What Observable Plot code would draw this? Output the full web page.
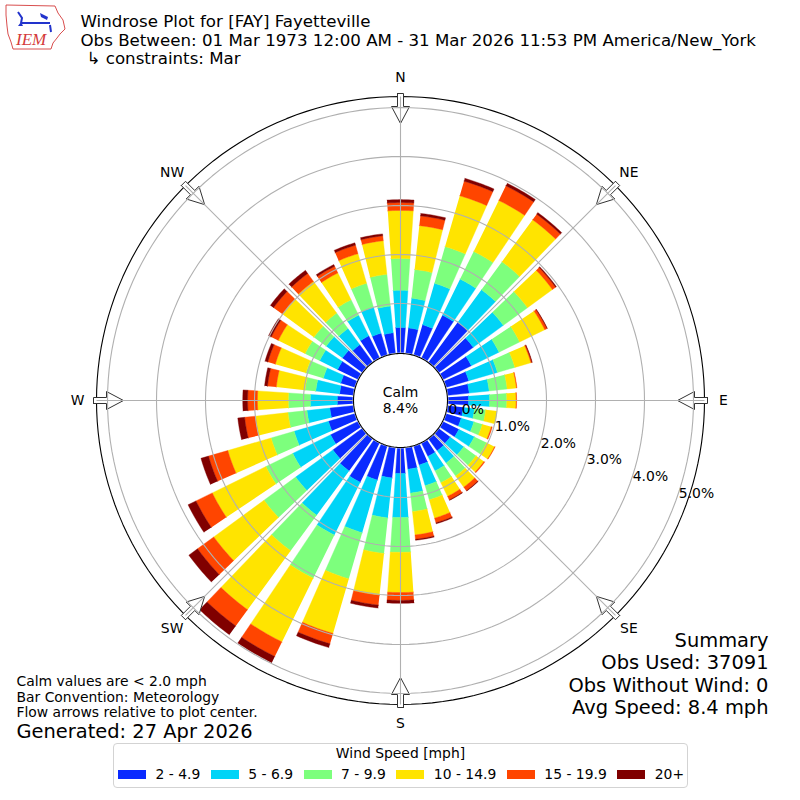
<!DOCTYPE html>
<html>
<head>
<meta charset="utf-8">
<script src="https://cdn.jsdelivr.net/npm/d3@7"></script>
<script src="https://cdn.jsdelivr.net/npm/@observablehq/plot@0.6"></script>
<style>
  body { margin: 0; background: #fff; font-family: "DejaVu Sans", sans-serif; }
  #wrap { position: relative; width: 800px; height: 800px; overflow: hidden; }
  #logo { position: absolute; left: 0px; top: 0px; }
  #legend { position: absolute; left: 113px; top: 743px; width: 575px; height: 45px;
    box-sizing: border-box; border: 1px solid #d3d3d3; border-radius: 4px; background: #fff;
    font-family: "DejaVu Sans", sans-serif; font-size: 13.9px; color: #000; }
  #legend .lt { text-align: center; line-height: 16px; margin-top: 1px; }
  #legend .items { display: flex; align-items: flex-start; line-height: 16px; margin-top: 5px; padding-left: 4px; }
  #legend .sw { width: 28px; height: 9px; margin-top: 4px; flex: none; }
  #legend .lb { margin-left: 9.5px; margin-right: 10.5px; white-space: pre; flex: none; }
</style>
</head>
<body>
<div id="wrap">
  <svg id="logo" width="70" height="54" viewBox="0 0 70 54">
    <path d="M6,5 L55,6 L58,13 L63,20 L65,29 L60,34 L57,38 L53,43 L51,49 L13,49 L11,42 L8,34 L7,26 L6,15 Z" fill="none" stroke="#d43a3a" stroke-width="0.9"/>
    <path d="M21,23 L50,23 M18,12 L22,18 L21,23 M50,25 L51,32" stroke="#2233cc" stroke-width="2" fill="none"/>
    <path d="M40,13 L48,17 L47,20 L41,17 Z" fill="#2233cc"/>
    <path d="M18,26 L21,22 L23,26 Z" fill="#2233cc"/>
    <text x="16" y="45" font-family="Liberation Serif, serif" font-style="italic" font-size="17" fill="#d43a3a">IEM</text>
  </svg>
  <div id="legend"><div class="lt">Wind Speed [mph]</div><div class="items"></div></div>
</div>
<script>
// ---------------- data (percent of observations) ----------------
const directions = [0,10,20,30,40,50,60,70,80,90,100,110,120,130,140,150,160,170,
                    180,190,200,210,220,230,240,250,260,270,280,290,300,310,320,330,340,350];
const bins = ["2 - 4.9", "5 - 6.9", "7 - 9.9", "10 - 14.9", "15 - 19.9", "20+"];
const colors = ["#0a2aff", "#00d4f7", "#7dff7d", "#ffe400", "#ff4500", "#800000"];

const speed2to5   = [0.51,0.51,0.63,0.96,1.00,0.86,0.63,0.47,0.43,0.41,0.31,0.31,0.35,0.28,0.29,0.29,0.39,0.43,
                     0.51,0.61,0.71,0.88,0.80,0.73,0.61,0.55,0.47,0.31,0.27,0.29,0.45,0.49,0.43,0.49,0.45,0.41];
const speed5to7   = [0.76,0.61,0.88,0.82,0.82,0.76,0.63,0.61,0.41,0.43,0.23,0.27,0.35,0.34,0.31,0.33,0.44,0.49,
                     0.90,0.82,1.12,1.20,1.12,0.94,0.86,0.73,0.47,0.55,0.49,0.37,0.41,0.41,0.41,0.47,0.55,0.55];
const speed7to10  = [0.65,0.59,0.78,0.63,0.71,0.61,0.47,0.37,0.37,0.35,0.23,0.18,0.28,0.31,0.33,0.27,0.30,0.38,
                     0.71,0.73,0.98,0.98,0.90,0.80,0.61,0.49,0.39,0.45,0.22,0.37,0.33,0.31,0.39,0.35,0.51,0.65];
const speed10to15 = [0.98,0.90,1.08,1.16,1.06,0.63,0.57,0.34,0.19,0.19,0.23,0.19,0.18,0.20,0.28,0.31,0.39,0.48,
                     0.82,0.86,1.16,1.45,1.49,1.27,1.22,0.92,0.67,0.63,0.59,0.65,0.61,0.80,0.80,0.61,0.63,0.69];
const speed15to20 = [0.16,0.20,0.31,0.33,0.14,0.08,0.05,0.02,0.01,0.01,0.00,0.02,0.01,0.02,0.09,0.08,0.10,0.09,
                     0.16,0.20,0.22,0.33,0.41,0.41,0.37,0.41,0.22,0.20,0.18,0.16,0.16,0.22,0.20,0.15,0.18,0.10];
const speed20plus = [0.06,0.05,0.06,0.06,0.04,0.02,0.01,0.01,0.00,0.00,0.00,0.00,0.00,0.00,0.01,0.01,0.02,0.02,
                     0.06,0.06,0.08,0.14,0.22,0.22,0.18,0.16,0.14,0.10,0.06,0.06,0.06,0.08,0.08,0.04,0.05,0.04];

const ringValues = [0, 1, 2, 3, 4, 5];
const compassNames = ["N", "NE", "E", "SE", "S", "SW", "W", "NW"];
const compassAngles = [0, 45, 90, 135, 180, 225, 270, 315];
const calmLabel = "Calm\n8.4%";
const titleLines = ["Windrose Plot for [FAY] Fayetteville",
  "Obs Between: 01 Mar 1973 12:00 AM - 31 Mar 2026 11:53 PM America/New_York",
  "↳ constraints: Mar"];
const noteLines = ["Calm values are < 2.0 mph", "Bar Convention: Meteorology", "Flow arrows relative to plot center."];
const generatedLine = "Generated: 27 Apr 2026";
const summaryLines = ["Summary", "Obs Used: 37091", "Obs Without Wind: 0", "Avg Speed: 8.4 mph"];

// ---------------- geometry helpers ----------------
const PXU = 1 / 49;            // one pixel in percent units
const HOLE = 48 * PXU;         // calm hole radius (0 % ring)
const U = 400 * PXU;           // half extent of the frame
const OUTER = 304 * PXU;       // outer axis circle
const HALF = 3.85;             // half angular width of a bar (deg)

function pt(theta, rho) {
  const a = theta * Math.PI / 180;
  return [rho * Math.sin(a), rho * Math.cos(a)];
}
function circlePts(rho, key) {
  const out = [];
  for (let k = 0; k <= 180; k++) { const [x, y] = pt(k * 2, rho); out.push({key, x, y}); }
  return out;
}

const series = [speed2to5, speed5to7, speed7to10, speed10to15, speed15to20, speed20plus];
const wedges = [];
directions.forEach((d, j) => {
  let cum = 0;
  series.forEach((s, i) => {
    const v = s[j];
    const r0 = HOLE + cum, r1 = HOLE + cum + v;
    cum += v;
    if (v <= 0) return;
    const key = d + "-" + i, n = 10;
    for (let k = 0; k <= n; k++) { const [x, y] = pt(d - HALF + 2 * HALF * k / n, r1); wedges.push({key, bin: bins[i], x, y}); }
    for (let k = n; k >= 0; k--) { const [x, y] = pt(d - HALF + 2 * HALF * k / n, r0); wedges.push({key, bin: bins[i], x, y}); }
  });
});

const rings = ringValues.filter(v => v > 0).flatMap(v => circlePts(HOLE + v, "r" + v));
const spokes = compassAngles.map(a => ({a, p: pt(a, OUTER)}));

// hollow flow arrow glyph: [inward px, tangential px]
const ARROW = [[0,-3],[13,-3],[13,-9],[30,0],[13,9],[13,3],[0,3],[0,-3]];
const arrows = [];
compassAngles.forEach((a, i) => {
  const t = a * Math.PI / 180, ux = Math.sin(t), uy = Math.cos(t), tx = Math.cos(t), ty = -Math.sin(t);
  const rs = OUTER + 3 * PXU;
  ARROW.forEach(([inw, tan]) => {
    const rho = rs - inw * PXU;
    arrows.push({key: i, x: rho * ux + tan * PXU * tx, y: rho * uy + tan * PXU * ty});
  });
});

const FONT = "DejaVu Sans";
function line(str, anchor, dx, baseline, fs, textAnchor) {
  return Plot.text([str], {frameAnchor: anchor, dx, dy: baseline - 0.32 * fs, text: d => d,
    fontSize: fs, fontFamily: FONT, textAnchor, lineAnchor: "middle", fill: "black"});
}

const marks = [
  Plot.line(circlePts(OUTER, "outer"), {x: "x", y: "y", stroke: "black", strokeWidth: 1.1}),
  Plot.line(wedges, {x: "x", y: "y", z: "key", fill: "bin", stroke: "bin", strokeWidth: 0.4}),
  Plot.line(arrows, {x: "x", y: "y", z: "key", fill: "white", stroke: "#333", strokeWidth: 1, strokeLinejoin: "miter"}),
  Plot.line(rings, {x: "x", y: "y", z: "key", stroke: "#b0b0b0", strokeWidth: 1.1}),
  Plot.link(spokes, {x1: 0, y1: 0, x2: d => d.p[0], y2: d => d.p[1], stroke: "#b0b0b0", strokeWidth: 1.1}),
  Plot.line(circlePts(HOLE - 1 * PXU, "hole"), {x: "x", y: "y", fill: "white", stroke: "black", strokeWidth: 1.1}),
  Plot.text([calmLabel], {x: 0, y: 0, text: d => d, fontSize: 13.9, fontFamily: FONT, lineHeight: 1.15, fill: "black", dy: -1}),
  Plot.text(ringValues, {x: v => pt(110, HOLE + v)[0], y: v => pt(110, HOLE + v)[1], text: v => v.toFixed(1) + "%",
    textAnchor: "start", lineAnchor: "middle", dx: 3, dy: -7.3, fontSize: 13.9, fontFamily: FONT, fill: "black"}),
  Plot.text(compassAngles, {x: a => pt(a, 323 * PXU)[0], y: a => pt(a, 323 * PXU)[1], text: (a, i) => compassNames[i],
    fontSize: 13.9, fontFamily: FONT, fill: "black"}),
  line(titleLines[0], "top-left", 80, 26, 16.67, "start"),
  line(titleLines[1], "top-left", 80, 45, 16.67, "start"),
  line(titleLines[2], "top-left", 86, 63.5, 16.67, "start"),
  line(noteLines[0], "top-left", 16, 685, 13.9, "start"),
  line(noteLines[1], "top-left", 16, 701, 13.9, "start"),
  line(noteLines[2], "top-left", 16, 716.5, 13.9, "start"),
  line(generatedLine, "top-left", 16, 737, 19.44, "start"),
  line(summaryLines[0], "top-right", -32, 646, 19.44, "end"),
  line(summaryLines[1], "top-right", -32, 668.5, 19.44, "end"),
  line(summaryLines[2], "top-right", -32, 691, 19.44, "end"),
  line(summaryLines[3], "top-right", -32, 713, 19.44, "end")
];

const chart = Plot.plot({
  width: 800, height: 800, margin: 0,
  x: {domain: [-U, U], axis: null},
  y: {domain: [-U, U], axis: null},
  color: {domain: bins, range: colors},
  style: {background: "white", overflow: "visible"},
  marks
});
chart.style.position = "absolute";
chart.style.left = "0px";
chart.style.top = "0px";
const wrap = document.getElementById("wrap");
wrap.insertBefore(chart, wrap.firstChild);

// legend (HTML, built from the same bins / colors)
const items = document.querySelector("#legend .items");
bins.forEach((b, i) => {
  const sw = document.createElement("div"); sw.className = "sw"; sw.style.background = colors[i];
  const lb = document.createElement("div"); lb.className = "lb"; lb.textContent = b;
  items.appendChild(sw); items.appendChild(lb);
});
</script>
</body>
</html>
